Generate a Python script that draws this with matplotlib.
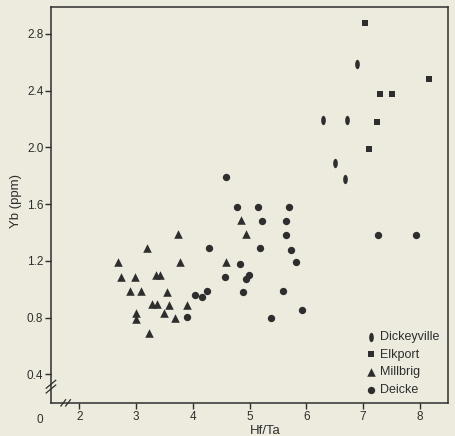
import matplotlib
matplotlib.use('Agg')
import matplotlib.pyplot as plt
from matplotlib.path import Path
from matplotlib.transforms import Affine2D

plt.rcParams['font.family'] = ['Liberation Sans', 'DejaVu Sans']

# Hf/Ta vs Yb (ppm) for four bentonite beds
dickeyville_x = [6.89, 6.29, 6.71, 6.50, 6.69]
dickeyville_y = [2.59, 2.19, 2.19, 1.89, 1.78]

elkport_x = [7.04, 8.16, 7.30, 7.51, 7.25, 7.11]
elkport_y = [2.88, 2.48, 2.38, 2.38, 2.18, 1.99]

millbrig_x = [3.73, 3.19, 2.68, 3.78, 2.73, 2.98, 3.35, 3.43, 2.89, 3.08, 3.55,
              3.28, 3.36, 3.58, 3.89, 2.99, 2.99, 3.50, 3.68, 3.23, 4.59, 4.85, 4.93]
millbrig_y = [1.39, 1.29, 1.19, 1.19, 1.09, 1.09, 1.10, 1.10, 0.99, 0.99, 0.98,
              0.895, 0.895, 0.89, 0.89, 0.83, 0.79, 0.833, 0.80, 0.69, 1.19, 1.49, 1.39]

deicke_x = [4.58, 4.77, 5.14, 5.69, 5.22, 5.64, 5.64, 4.28, 5.18, 5.73, 4.83, 5.82,
            4.56, 4.94, 4.99, 4.25, 4.16, 4.04, 4.88, 5.59, 5.92, 5.37, 3.89, 7.27, 7.93]
deicke_y = [1.79, 1.58, 1.58, 1.58, 1.485, 1.48, 1.38, 1.29, 1.29, 1.28, 1.18, 1.19,
            1.085, 1.07, 1.10, 0.99, 0.946, 0.96, 0.98, 0.99, 0.855, 0.80, 0.805, 1.38, 1.38]

x_ticks = [2, 3, 4, 5, 6, 7, 8]
y_ticks = [0.4, 0.8, 1.2, 1.6, 2.0, 2.4, 2.8]

bg = '#ecebdd'
ink = '#2e2e2e'

ellipse = Path.unit_circle().transformed(Affine2D().scale(0.5, 1.0))

fig = plt.figure(figsize=(4.55, 4.36), dpi=100, facecolor=bg)
ax = fig.add_axes([0.112, 0.076, 0.873, 0.908], facecolor=bg)

ax.scatter(dickeyville_x, dickeyville_y, marker=ellipse, s=45, color=ink, label='Dickeyville', linewidths=0)
ax.scatter(elkport_x, elkport_y, marker='s', s=24, color=ink, label='Elkport', linewidths=0)
ax.scatter(millbrig_x, millbrig_y, marker='^', s=38, color=ink, label='Millbrig', linewidths=0)
ax.scatter(deicke_x, deicke_y, marker='o', s=28, color=ink, label='Deicke', linewidths=0)

ax.set_xlim(1.5, 8.5)
ax.set_ylim(0.2, 2.99)
ax.set_xticks(x_ticks)
ax.set_yticks(y_ticks)
ax.set_yticklabels(['%.1f' % v for v in y_ticks])
ax.tick_params(direction='out', length=4, width=1, color=ink, labelcolor=ink, labelsize=8.5, pad=1.5)

for s in ax.spines.values():
    s.set_color(ink)
    s.set_linewidth(1.1)

ax.set_xlabel('Hf/Ta', fontsize=9.5, color=ink)
ax.xaxis.set_label_coords(0.54, -0.055)
ax.set_ylabel('Yb (ppm)', fontsize=9.5, color=ink)
ax.yaxis.set_label_coords(-0.072, 0.51)

# origin label and axis break marks
ax.text(-0.02, -0.028, '0', transform=ax.transAxes, ha='right', va='top', fontsize=8.5, color=ink)
for dy in (0.0, 0.012):
    ax.plot([-0.012, 0.012], [0.025 + dy, 0.045 + dy], transform=ax.transAxes,
            color=ink, lw=0.9, clip_on=False)
for dx in (0.0, 0.012):
    ax.plot([0.025 + dx, 0.037 + dx], [-0.008, 0.008], transform=ax.transAxes,
            color=ink, lw=0.9, clip_on=False)

leg = ax.legend(loc='lower right', frameon=False, fontsize=9, handletextpad=0.1,
                labelspacing=0.45, borderaxespad=0.0, handlelength=1.2,
                bbox_to_anchor=(0.99, 0.005))
for t in leg.get_texts():
    t.set_color(ink)

fig.savefig('out.png', dpi=100, facecolor=bg)
